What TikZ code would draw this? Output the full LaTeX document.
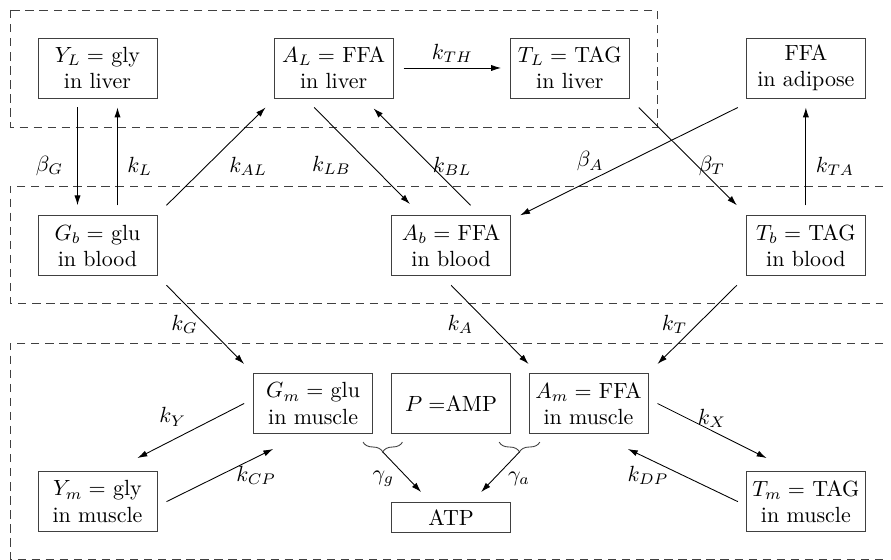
\documentclass[tikz,border=0pt]{standalone}
\usepackage{amsmath}
\usepackage{amssymb}
\usepackage{tikz}
\usetikzlibrary{positioning, arrows.meta, decorations.pathreplacing}

\begin{document}
\begin{tikzpicture}[thin]

        % Styles
        \tikzstyle{box} = [draw=black!75, rectangle, minimum height=0.96cm, minimum width=1.904cm, align=center, inner sep=2pt]
        \tikzstyle{arrow} = [-{Latex[length=4.5pt, width=2.8pt]}, thin]
        \tikzstyle{region} = [draw=black!75, dash pattern=on 3.8pt off 2.6pt]
        \tikzstyle{brace} = [draw=black!75, decorate, decoration={brace, mirror, amplitude=4.5pt}]

        \useasboundingbox (-1.56,1.088) rectangle (12.696,-7.872);

        % Regions
        \draw[region] (-1.4,0.928) rectangle (8.952,-0.944);
        \draw[region] (12.568,-1.888) -- (-1.4,-1.888) -- (-1.4,-3.76) -- (12.568,-3.76);
        \draw[region] (12.568,-4.4) -- (-1.4,-4.4) -- (-1.4,-7.856) -- (12.568,-7.856);

        % Nodes
        \node [box] (yl) {$Y_L=$ gly\\in liver};
        \node [box, right=1.86cm of yl] (al) {$A_L=$ FFA\\in liver};
        \node [box, right=1.86cm of al] (tl) {$T_L=$ TAG\\in liver};
        \node [box, right=1.86cm of tl] (adipose) {FFA\\in adipose};
        \node [box, below=1.87cm of yl] (gb) {$G_b=$ glu\\in blood};
        \node [box, below=1.87cm of adipose] (tb) {$T_b=$ TAG\\in blood};
        \node [box, right=3.74cm of gb] (ab) {$A_b=$ FFA\\in blood};
        \node [box, below=1.55cm of ab] (amp) {$P=$AMP};
        \node [box, left=0.29cm of amp] (gm) {$G_m=$ glu\\in muscle};
        \node [box, right=0.28cm of amp] (am) {$A_m=$ FFA\\in muscle};
        \node [box, below=3.12cm of gb] (ym) {$Y_m=$ gly\\in muscle};
        \node [box, below=3.12cm of tb] (tm) {$T_m=$ TAG\\in muscle};
        \node [box, minimum height=0.48cm, below=1.09cm of amp] (atp) {ATP};

        % Arrows
        \draw[arrow] ([shift={(-0.32,-0.145)}]yl.south) -- node[pos=0.6, left=3pt] {$\beta_G$} ([shift={(-0.32,0.16)}]gb.north);
        \draw[arrow] ([shift={(0.32,0.16)}]gb.north) -- node[pos=0.4, right=1pt] {$k_L$} ([shift={(0.32,-0.145)}]yl.south);
        \draw[arrow] ([shift={(0.145,0.16)}]gb.north east) -- node[pos=0.4, right=7pt] {$k_{AL}$} ([shift={(-0.13,-0.145)}]al.south west);
        \draw[arrow] ([shift={(-0.31,-0.145)}]al.south) -- node[pos=0.6, left=6pt] {$k_{LB}$} ([shift={(0.3,0.18)}]ab.north west);
        \draw[arrow] ([shift={(0.31,0.16)}]ab.north) -- node[pos=0.4, right=-3pt] {$k_{BL}$} ([shift={(-0.32,-0.16)}]al.south east);
        \draw[arrow] ([xshift=0.16cm]al.east) -- node[midway, above=-1pt] {$k_{TH}$} ([xshift=-0.14cm]tl.west);
        \draw[arrow] ([shift={(0.145,-0.145)}]tl.south east) -- node[pos=0.6, right=-3pt] {$\beta_T$} ([shift={(-0.145,0.16)}]tb.north west);
        \draw[arrow] ([shift={(-0.13,-0.145)}]adipose.south west) -- node[midway, left=8pt] {$\beta_A$} ([xshift=0.145cm]ab.north east);
        \draw[arrow] ([yshift=0.16cm]tb.north) -- node[pos=0.4, right=1pt] {$k_{TA}$} ([yshift=-0.145cm]adipose.south);
        \draw[arrow] ([shift={(0.145,-0.145)}]gb.south east) -- node[midway, left=0pt] {$k_G$} ([shift={(-0.145,0.145)}]gm.north west);
        \draw[arrow] ([yshift=-0.145cm]ab.south) -- node[midway, left=4pt] {$k_A$} ([yshift=0.145cm]am.north west);
        \draw[arrow] ([shift={(-0.145,-0.145)}]tb.south west) -- node[midway, left=1pt] {$k_T$} ([shift={(0.145,0.145)}]am.north east);
        \draw[arrow] ([xshift=-0.145cm]gm.west) -- node[midway, above left=-2pt] {$k_Y$} ([shift={(-0.32,0.21)}]ym.north east);
        \draw[arrow] ([xshift=0.145cm]ym.east) -- node[midway, right=4pt] {$k_{CP}$} ([shift={(0.32,-0.24)}]gm.south west);
        \draw[arrow] ([xshift=0.145cm]am.east) -- node[midway, above=-2pt] {$k_X$} ([shift={(0.33,0.21)}]tm.north west);
        \draw[arrow] ([xshift=-0.13cm]tm.west) -- node[midway, left=3pt] {$k_{DP}$} ([shift={(-0.33,-0.24)}]am.south east);

        % Braces to ATP
        \draw[brace] ([shift={(-0.16,-0.13)}]gm.south east) -- coordinate[midway, yshift=-4.5pt] (gg) ([shift={(0.18,-0.13)}]amp.south west);
        \draw[brace] ([shift={(-0.19,-0.13)}]amp.south east) -- coordinate[midway, yshift=-4.5pt] (ga) ([shift={(0.18,-0.13)}]am.south west);
        \draw[arrow] (gg) -- node[midway, left, yshift=-3pt] {$\gamma_g$} ([shift={(-0.48,0.16)}]atp.north);
        \draw[arrow] (ga) -- node[midway, right, yshift=-3pt] {$\gamma_a$} ([shift={(0.48,0.16)}]atp.north);

\end{tikzpicture}
\end{document}
